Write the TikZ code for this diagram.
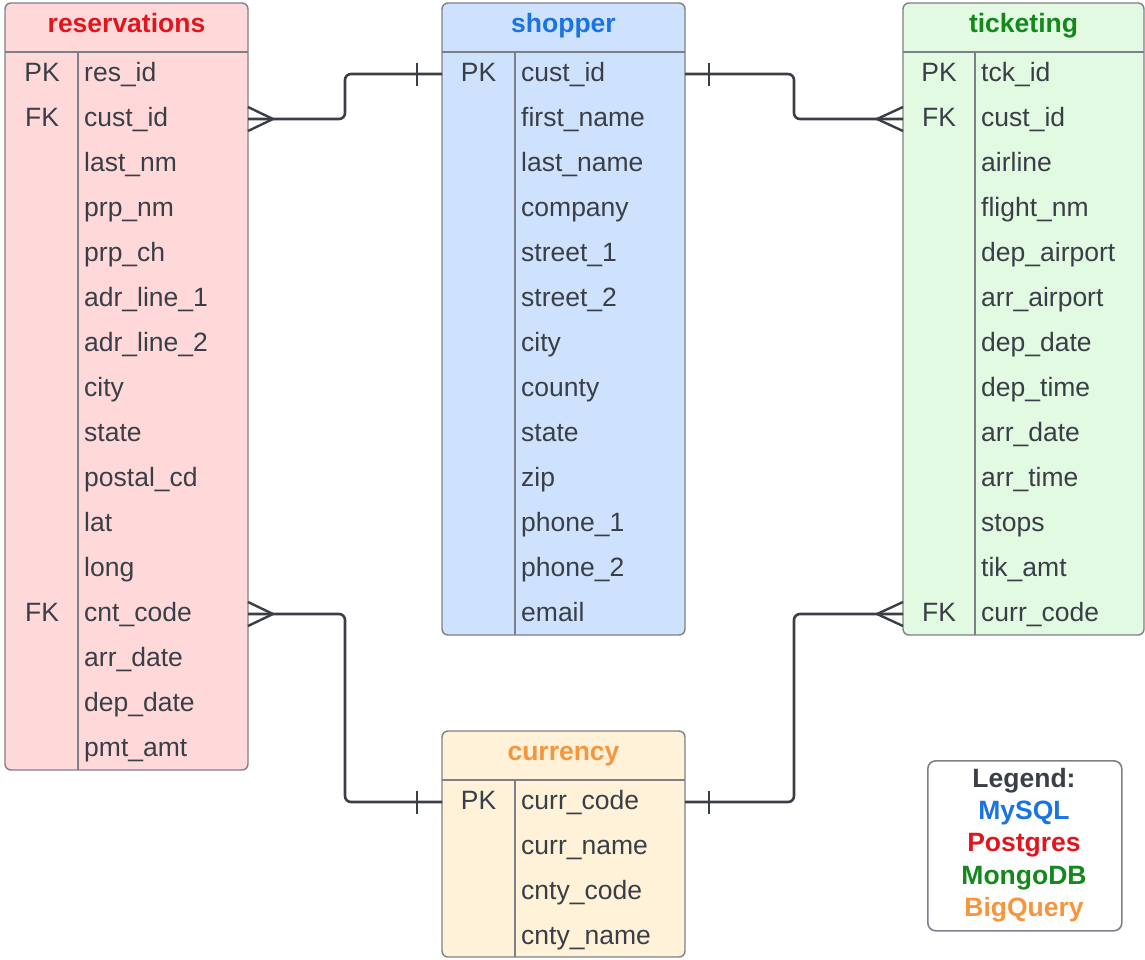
\documentclass[tikz,border=0pt]{standalone}
\usepackage{fontspec}
\setmainfont{Liberation Sans}
\usetikzlibrary{calc}
\definecolor{ink}{HTML}{3A3F47}
\definecolor{edge}{HTML}{7C8088}
\definecolor{resfill}{HTML}{FFD9DA}
\definecolor{restitle}{HTML}{E0161C}
\definecolor{shopfill}{HTML}{CFE2FD}
\definecolor{shoptitle}{HTML}{1A73E3}
\definecolor{tickfill}{HTML}{E2F9E2}
\definecolor{ticktitle}{HTML}{12891A}
\definecolor{currfill}{HTML}{FFF2D8}
\definecolor{currtitle}{HTML}{F6953B}
\begin{document}
\begin{tikzpicture}[x=1pt,y=-1pt,
  font=\fontsize{26.5}{32}\selectfont,
  tablebox/.style={draw=edge, line width=1.4pt, rounded corners=6pt, inner sep=0pt, outer sep=0pt, anchor=north west},
  sepline/.style={draw=edge, line width=1.2pt},
  title/.style={font=\fontsize{26.5}{32}\selectfont\bfseries, inner sep=0pt, text height=19pt, text depth=5pt},
  field/.style={text=ink, anchor=west, inner sep=0pt, text height=19pt, text depth=5pt},
  keyl/.style={text=ink, inner sep=0pt, text height=19pt, text depth=5pt},
  conn/.style={draw=ink, line width=2.6pt, rounded corners=6pt},
  foot/.style={draw=ink, line width=2.4pt, line join=miter},
  bar/.style={draw=ink, line width=1.8pt},
  legendtxt/.style={font=\fontsize{26.5}{32}\selectfont\bfseries, inner sep=0pt, text height=19pt, text depth=5pt}
]
\useasboundingbox (0,0) rectangle (1145,959);

% ---------- reservations ----------
\node[tablebox, fill=resfill, minimum width=243pt, minimum height=767pt] (res) at (5,3) {};
\draw[sepline] (5,52) -- (248,52);
\draw[sepline] (78,52) -- (78,770);
\node[title, text=restitle] (res-t) at (126.5,25.5) {reservations};
\foreach \f [count=\i] in {res\_id,cust\_id,last\_nm,prp\_nm,prp\_ch,adr\_line\_1,adr\_line\_2,city,state,postal\_cd,lat,long,cnt\_code,arr\_date,dep\_date,pmt\_amt}
  \node[field] (res-\i) at (84,{74+45*(\i-1)}) {\f};
\node[keyl] (res-k1) at (42,74) {PK};
\node[keyl] (res-k2) at (42,119) {FK};
\node[keyl] (res-k13) at (42,614) {FK};

% ---------- shopper ----------
\node[tablebox, fill=shopfill, minimum width=243pt, minimum height=632pt] (shop) at (442,3) {};
\draw[sepline] (442,52) -- (685,52);
\draw[sepline] (515,52) -- (515,635);
\node[title, text=shoptitle] (shop-t) at (563.5,25.5) {shopper};
\foreach \f [count=\i] in {cust\_id,first\_name,last\_name,company,street\_1,street\_2,city,county,state,zip,phone\_1,phone\_2,email}
  \node[field] (shop-\i) at (521,{74+45*(\i-1)}) {\f};
\node[keyl] (shop-k1) at (478.5,74) {PK};

% ---------- ticketing ----------
\node[tablebox, fill=tickfill, minimum width=241pt, minimum height=632pt] (tick) at (903,3) {};
\draw[sepline] (903,52) -- (1144,52);
\draw[sepline] (975,52) -- (975,635);
\node[title, text=ticktitle] (tick-t) at (1023.5,25.5) {ticketing};
\foreach \f [count=\i] in {tck\_id,cust\_id,airline,flight\_nm,dep\_airport,arr\_airport,dep\_date,dep\_time,arr\_date,arr\_time,stops,tik\_amt,curr\_code}
  \node[field] (tick-\i) at (981,{74+45*(\i-1)}) {\f};
\node[keyl] (tick-k1) at (939,74) {PK};
\node[keyl] (tick-k2) at (939,119) {FK};
\node[keyl] (tick-k13) at (939,614) {FK};

% ---------- currency ----------
\node[tablebox, fill=currfill, minimum width=243pt, minimum height=226pt] (curr) at (442,731) {};
\draw[sepline] (442,780) -- (685,780);
\draw[sepline] (515,780) -- (515,957);
\node[title, text=currtitle] (curr-t) at (563.5,753.5) {currency};
\foreach \f [count=\i] in {curr\_code,curr\_name,cnty\_code,cnty\_name}
  \node[field] (curr-\i) at (521,{802+45*(\i-1)}) {\f};
\node[keyl] (curr-k1) at (478.5,802) {PK};

% ---------- legend ----------
\node[draw=edge, line width=1.6pt, rounded corners=8pt, fill=white, minimum width=194pt, minimum height=170pt, inner sep=0pt, anchor=north west] (leg) at (927,760) {};
\node[legendtxt, text=ink] (leg-0) at (1024,780.5) {Legend:};
\node[legendtxt, text=shoptitle] (leg-1) at (1024,812.5) {MySQL};
\node[legendtxt, text=restitle] (leg-2) at (1024,844.5) {Postgres};
\node[legendtxt, text=ticktitle] (leg-3) at (1024,877.5) {MongoDB};
\node[legendtxt, text=currtitle] (leg-4) at (1024,909.5) {BigQuery};

% ---------- connector anchors ----------
\coordinate (a1) at (res.east |- res-2);
\coordinate (b1) at (shop.west |- shop-1);
\coordinate (m1) at ($(res.east)!.5!(shop.west)$);
\coordinate (a2) at (shop.east |- shop-1);
\coordinate (b2) at (tick.west |- tick-2);
\coordinate (m2) at ($(shop.east)!.5!(tick.west)$);
\coordinate (a3) at (res.east |- res-13);
\coordinate (b3) at (curr.west |- curr-1);
\coordinate (a4) at (curr.east |- curr-1);
\coordinate (b4) at (tick.west |- tick-13);

% connectors
\draw[conn] (a1) -| (m1 |- b1) -- (b1);
\draw[conn] (a2) -| (m2 |- b2) -- (b2);
\draw[conn] (a3) -| (m1 |- b3) -- (b3);
\draw[conn] (a4) -| (m2 |- b4) -- (b4);

% crow's feet (many)
\draw[foot] (a1) ++(0,-12) -- ++(25,12) -- ++(-25,12);
\draw[foot] (a3) ++(0,-12) -- ++(25,12) -- ++(-25,12);
\draw[foot] (b2) ++(0,-12) -- ++(-26,12) -- ++(26,12);
\draw[foot] (b4) ++(0,-12) -- ++(-26,12) -- ++(26,12);

% bars (one)
\draw[bar] (b1) ++(-25,-11.5) -- ++(0,23);
\draw[bar] (b3) ++(-25,-11.5) -- ++(0,23);
\draw[bar] (a2) ++(24,-11.5) -- ++(0,23);
\draw[bar] (a4) ++(24,-11.5) -- ++(0,23);
\end{tikzpicture}
\end{document}
